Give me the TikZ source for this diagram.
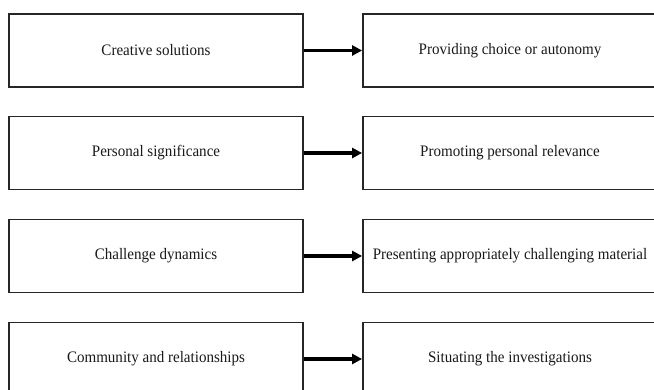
\documentclass[tikz,border=0pt]{standalone}
\usepackage{fontspec}
\setmainfont[FakeStretch=0.94]{Liberation Serif}
\usetikzlibrary{arrows.meta}
\begin{document}
\begin{tikzpicture}[x=1pt,y=1pt,
  box/.style={draw=black!85, line width=1.8pt, minimum width=294pt, minimum height=73pt,
    inner sep=0pt, text=black!90, font=\fontsize{16}{19}\selectfont},
  link/.style={line width=3.8pt, -{Triangle[length=10pt,width=10pt]}}]
\useasboundingbox (0,0) rectangle (654,390);
\clip (0,0) rectangle (654,390);
\fill[white] (0,0) rectangle (654,390);
\node[box] (l1) at (156,339.5) {Creative solutions};
\node[box] (r1) at (510,339.5) {Providing choice or autonomy};
\node[box] (l2) at (156,237) {Personal significance};
\node[box] (r2) at (510,237) {Promoting personal relevance};
\node[box] (l3) at (156,134) {Challenge dynamics};
\node[box] (r3) at (510,134) {Presenting appropriately challenging material};
\node[box] (l4) at (156,31) {Community and relationships};
\node[box] (r4) at (510,31) {Situating the investigations};
\draw[link] (l1) -- (r1);
\draw[link] (l2) -- (r2);
\draw[link] (l3) -- (r3);
\draw[link] (l4) -- (r4);
\end{tikzpicture}
\end{document}
